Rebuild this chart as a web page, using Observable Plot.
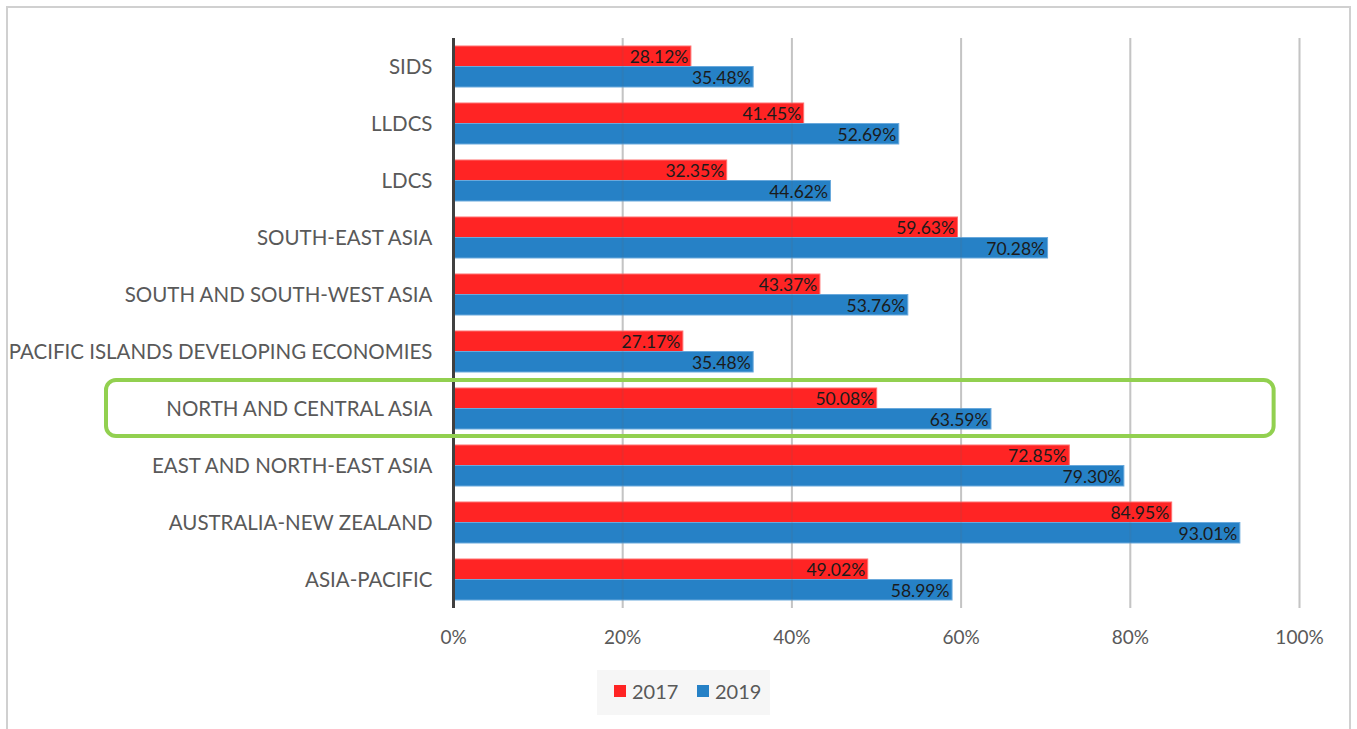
<!DOCTYPE html>
<html>
<head>
<meta charset="utf-8">
<script src="https://cdn.jsdelivr.net/npm/d3@7"></script>
<script src="https://cdn.jsdelivr.net/npm/@observablehq/plot@0.6"></script>
<style>
  body { margin: 0; background: #fff; }
  #chart { position: relative; width: 1357px; height: 729px; }
</style>
</head>
<body>
<div id="chart"></div>
<script>
const categories = [
  "SIDS", "LLDCS", "LDCS", "SOUTH-EAST ASIA", "SOUTH AND SOUTH-WEST ASIA",
  "PACIFIC ISLANDS DEVELOPING ECONOMIES", "NORTH AND CENTRAL ASIA",
  "EAST AND NORTH-EAST ASIA", "AUSTRALIA-NEW ZEALAND", "ASIA-PACIFIC"
];
const values2017 = [28.12, 41.45, 32.35, 59.63, 43.37, 27.17, 50.08, 72.85, 84.95, 49.02];
const values2019 = [35.48, 52.69, 44.62, 70.28, 53.76, 35.48, 63.59, 79.30, 93.01, 58.99];
const xTicks = [0, 20, 40, 60, 80, 100];
const seriesNames = ["2017", "2019"];
const highlighted = "NORTH AND CENTRAL ASIA";

const colors = {"2017": "#ff2424", "2019": "#2681c6"};
const font = "Lato, 'Open Sans', sans-serif";

const d17 = categories.map((c, i) => ({category: c, value: values2017[i]}));
const d19 = categories.map((c, i) => ({category: c, value: values2019[i]}));

const W = 1357, H = 729;
const plot = Plot.plot({
  width: W,
  height: H,
  marginLeft: 453,
  marginRight: 58,
  marginTop: 38,
  marginBottom: 121,
  style: {fontFamily: font, background: "transparent", overflow: "visible"},
  x: {domain: [0, 100], ticks: xTicks, tickFormat: d => d + "%", label: null},
  y: {domain: categories, paddingInner: 0.28, paddingOuter: 0.14, label: null},
  marks: [
    Plot.gridX(xTicks.filter(d => d > 0), {stroke: "#d2d2d2", strokeOpacity: 1, strokeWidth: 2}),
    Plot.barX(d17, {x: "value", y: "category", fill: colors["2017"], stroke: "#ff7070", strokeWidth: 1, insetBottom: 20.5}),
    Plot.barX(d19, {x: "value", y: "category", fill: colors["2019"], stroke: "#6aa9dc", strokeWidth: 1, insetTop: 20.5}),
    Plot.gridX(xTicks.filter(d => d > 0), {stroke: "#666", strokeOpacity: 0.12, strokeWidth: 2}),
    Plot.text(d17, {x: "value", y: "category", text: d => d.value.toFixed(2) + "%", textAnchor: "end", dx: -3, dy: -10, fill: "#1b1b1b", fontSize: 17.5}),
    Plot.text(d19, {x: "value", y: "category", text: d => d.value.toFixed(2) + "%", textAnchor: "end", dx: -3, dy: 11, fill: "#1b1b1b", fontSize: 17.5}),
    Plot.ruleX([0], {stroke: "#404040", strokeWidth: 3}),
    Plot.axisX({ticks: xTicks, tickFormat: d => d + "%", tickSize: 0, tickPadding: 22, fontSize: 19, fill: "#595959", label: null}),
    Plot.axisY({tickSize: 0, tickPadding: 21, fontSize: 20.5, fill: "#595959", label: null})
  ]
});
document.getElementById("chart").appendChild(plot);

const svg = d3.select(plot);
const xs = plot.scale("x"), ys = plot.scale("y");
const bw = ys.bandwidth;

// outer border
svg.insert("rect", ":first-child")
  .attr("x", 7).attr("y", 7).attr("width", W - 14).attr("height", H)
  .attr("fill", "#fff").attr("stroke", "#d0d0d0").attr("stroke-width", 2);

// highlight box
const yh = ys.apply(highlighted);
svg.append("rect")
  .attr("x", 106).attr("y", yh - 8)
  .attr("width", xs.apply(97) - 106).attr("height", bw + 15)
  .attr("rx", 10).attr("ry", 10)
  .attr("fill", "none").attr("stroke", "#92d050").attr("stroke-width", 4);

// legend
const lg = svg.append("g").attr("font-family", font).attr("text-anchor", "start");
lg.append("rect").attr("x", 597).attr("y", 670).attr("width", 173).attr("height", 45).attr("fill", "#f6f6f6");
const legendItems = [[614, "2017"], [697, "2019"]];
legendItems.forEach(([lx, name]) => {
  lg.append("rect").attr("x", lx).attr("y", 685).attr("width", 12).attr("height", 12).attr("fill", colors[name]);
  lg.append("text").attr("x", lx + 18).attr("y", 699).attr("text-anchor", "start")
    .attr("font-size", 20).attr("fill", "#595959").text(name);
});
</script>
</body>
</html>
